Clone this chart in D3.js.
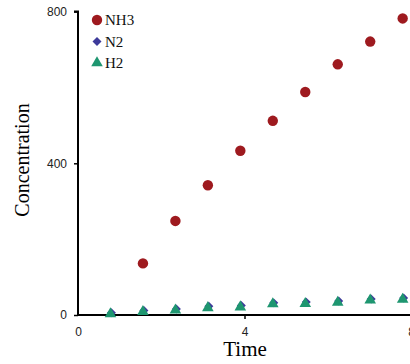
<!DOCTYPE html>
<html><head><meta charset="utf-8">
<script src="https://cdn.jsdelivr.net/npm/d3@7"></script>
<style>body{margin:0;background:#fff;}svg{display:block;}</style>
</head><body>
<script>
const timesNH3 = [1.56, 2.34, 3.12, 3.90, 4.68, 5.46, 6.24, 7.02, 7.80];
const valuesNH3 = [136, 248, 342, 433, 512, 588, 661, 721, 782];
const timesGas = [0.78, 1.56, 2.34, 3.12, 3.90, 4.68, 5.46, 6.24, 7.02, 7.80];
const valuesN2 = [6, 12, 16, 23, 25, 32, 34, 37, 42, 45];
const valuesH2 = [3, 9, 13, 19, 21, 29, 30, 33, 39, 41];
const xTicks = [0, 4, 8];
const yTicks = [0, 400, 800];
const seriesNames = ["NH3", "N2", "H2"];
const colors = {NH3: "#9e1a1f", N2: "#3d3a9a", H2: "#1e9670"};

const W = 410, H = 364;
const svg = d3.select("body").append("svg").attr("width", W).attr("height", H);
const x = d3.scaleLinear().domain([0, 8]).range([78, 411]);
const y = d3.scaleLinear().domain([0, 800]).range([315, 11.6]);

// axes
const yAxis = d3.axisLeft(y).tickValues(yTicks).tickSize(4).tickPadding(7).tickFormat(d3.format("d"));
const gy = svg.append("g").attr("transform", "translate(78,0)").call(yAxis);
gy.select(".domain").attr("d", `M-4,${y(800)}H0V${y(0)+1}`).attr("stroke", "#000").attr("stroke-width", 2);
gy.selectAll(".tick line").attr("stroke-width", 1.5);
gy.selectAll("text").attr("font-family", "Liberation Sans, Arial, sans-serif").attr("font-size", 12).attr("fill", "#222");

const xAxis = d3.axisBottom(x).tickValues(xTicks).tickSize(4).tickPadding(8).tickFormat(d3.format("d"));
const gx = svg.append("g").attr("transform", "translate(0,315)").call(xAxis);
gx.select(".domain").attr("d", `M77,0H${W}`).attr("stroke", "#000").attr("stroke-width", 2);
gx.selectAll(".tick line").attr("stroke-width", 1.5);
gx.selectAll(".tick").filter(d => d === 0).select("line").remove();
gx.selectAll("text").attr("font-family", "Liberation Sans, Arial, sans-serif").attr("font-size", 12).attr("fill", "#222");

// axis titles
svg.append("text").attr("x", 245).attr("y", 356).attr("text-anchor", "middle")
  .attr("font-family", "Liberation Serif, Times New Roman, serif").attr("font-size", 21).text("Time");
svg.append("text").attr("transform", "translate(29,160) rotate(-90)").attr("text-anchor", "middle")
  .attr("font-family", "Liberation Serif, Times New Roman, serif").attr("font-size", 20).text("Concentration");

const sym = {
  NH3: d3.symbol().type(d3.symbolCircle).size(85),
  N2: d3.symbol().type(d3.symbolSquare).size(40),
  H2: d3.symbol().type(d3.symbolTriangle).size(58)
};
const rot = {NH3: 0, N2: 45, H2: 0};

svg.append("g").selectAll("path").data(timesGas.map((t, i) => [t, valuesN2[i]])).join("path")
  .attr("d", sym.N2()).attr("fill", colors.N2)
  .attr("transform", d => `translate(${x(d[0]) + 1},${y(d[1])}) rotate(45)`);
svg.append("g").selectAll("path").data(timesGas.map((t, i) => [t, valuesH2[i]])).join("path")
  .attr("d", sym.H2()).attr("fill", colors.H2)
  .attr("transform", d => `translate(${x(d[0])},${y(d[1])})`);
svg.append("g").selectAll("path").data(timesNH3.map((t, i) => [t, valuesNH3[i]])).join("path")
  .attr("d", sym.NH3()).attr("fill", colors.NH3)
  .attr("transform", d => `translate(${x(d[0])},${y(d[1])})`);

// legend
const leg = svg.append("g");
seriesNames.forEach((s, i) => {
  const ly = 20 + i * 21.5;
  leg.append("path").attr("d", sym[s]()).attr("fill", colors[s]).attr("transform", `translate(97,${ly}) rotate(${rot[s]})`);
  leg.append("text").attr("x", 105).attr("y", ly + 5).attr("font-family", "Liberation Serif, Times New Roman, serif")
    .attr("font-size", 15).attr("fill", "#111").text(s);
});
</script>
</body></html>
